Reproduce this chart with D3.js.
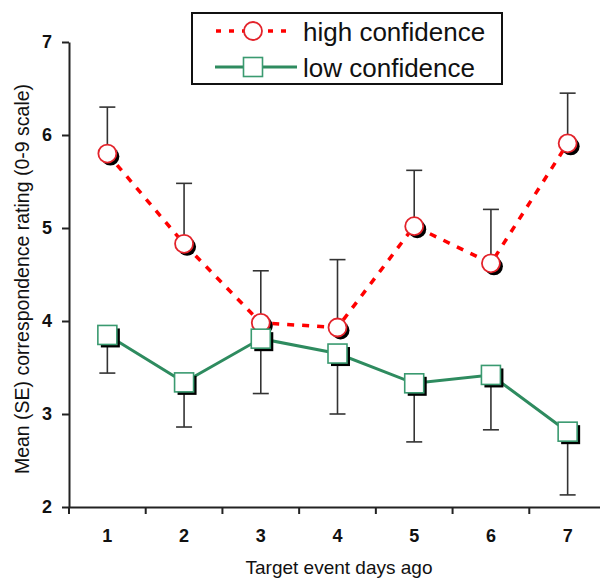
<!DOCTYPE html>
<html>
<head>
<meta charset="utf-8">
<script src="https://cdn.jsdelivr.net/npm/d3@7"></script>
<style>
  html, body { margin: 0; padding: 0; background: #fff; }
  svg { display: block; font-family: "Liberation Sans", Arial, sans-serif; }
</style>
</head>
<body>
<svg id="chart" width="600" height="581"></svg>
<script>
// Days since the target event
const days = [1, 2, 3, 4, 5, 6, 7];
// High-confidence group: mean rating and standard error
const highMean = [5.80, 4.83, 3.98, 3.93, 5.02, 4.62, 5.91];
const highSE   = [0.50, 0.65, 0.56, 0.73, 0.60, 0.58, 0.54];
// Low-confidence group: mean rating and standard error
const lowMean  = [3.85, 3.34, 3.81, 3.65, 3.33, 3.42, 2.81];
const lowSE    = [0.41, 0.48, 0.59, 0.65, 0.63, 0.59, 0.68];
const yTicks   = [2, 3, 4, 5, 6, 7];
const seriesNames = ["high confidence", "low confidence"];

const svg = d3.select("#chart");
const x = d3.scaleBand().domain(days).range([69, 606]);
const y = d3.scaleLinear().domain([2, 7]).range([507, 42]);
const cx = d => x(d) + x.bandwidth() / 2;

const axisColor = "#222";

// Y axis
const yAxis = svg.append("g").attr("transform", "translate(69,0)")
  .call(d3.axisLeft(y).tickValues(yTicks).tickFormat(d3.format("d")).tickSize(7).tickSizeOuter(0).tickPadding(10));
yAxis.select(".domain").attr("stroke", axisColor).attr("stroke-width", 2);
yAxis.selectAll(".tick line").attr("stroke", axisColor).attr("stroke-width", 2);
yAxis.selectAll(".tick text").attr("font-size", 18).attr("font-weight", "bold").attr("fill", "#111")
  .attr("font-family", "Liberation Sans, Arial, sans-serif");

// X axis: labels centred in each day's band, ticks on the band boundaries
const xAxis = svg.append("g").attr("transform", "translate(0,507)")
  .call(d3.axisBottom(x).tickSize(0).tickPadding(22));
xAxis.select(".domain").attr("stroke", axisColor).attr("stroke-width", 2);
xAxis.selectAll(".tick text").attr("font-size", 18).attr("font-weight", "bold").attr("fill", "#111")
  .attr("font-family", "Liberation Sans, Arial, sans-serif");
xAxis.selectAll(".boundary").data(days).enter().append("line")
  .attr("class", "boundary")
  .attr("x1", d => x(d)).attr("x2", d => x(d))
  .attr("y1", 0).attr("y2", 7)
  .attr("stroke", axisColor).attr("stroke-width", 2);

// Axis titles
svg.append("text")
  .attr("x", 339).attr("y", 574)
  .attr("text-anchor", "middle").attr("font-size", 19).attr("fill", "#111")
  .text("Target event days ago");
svg.append("text")
  .attr("transform", "translate(29,279) rotate(-90)")
  .attr("text-anchor", "middle").attr("font-size", 19.5).attr("fill", "#111")
  .text("Mean (SE) correspondence rating (0-9 scale)");

const high = days.map((d, i) => ({ d, m: highMean[i], se: highSE[i] }));
const low  = days.map((d, i) => ({ d, m: lowMean[i],  se: lowSE[i] }));

const line = d3.line().x(p => cx(p.d)).y(p => y(p.m));
const capW = 8;
const shadow = 3;

function errorBars(data, dir) {
  const g = svg.append("g");
  data.forEach(p => {
    const end = y(p.m + dir * p.se);
    g.append("line").attr("x1", cx(p.d)).attr("x2", cx(p.d))
      .attr("y1", y(p.m)).attr("y2", end)
      .attr("stroke", "#333").attr("stroke-width", 1.6);
    g.append("line").attr("x1", cx(p.d) - capW).attr("x2", cx(p.d) + capW)
      .attr("y1", end).attr("y2", end)
      .attr("stroke", "#333").attr("stroke-width", 1.6);
  });
}

// High-confidence series: dashed red line with open circles
svg.append("path").datum(high).attr("d", line)
  .attr("fill", "none").attr("stroke", "#ff0000").attr("stroke-width", 3.5)
  .attr("stroke-dasharray", "7,8");
errorBars(high, 1);
svg.append("g").selectAll("circle").data(high).enter().append("circle")
  .attr("cx", p => cx(p.d) + shadow).attr("cy", p => y(p.m) + shadow).attr("r", 9)
  .attr("fill", "#000");
svg.append("g").selectAll("circle").data(high).enter().append("circle")
  .attr("cx", p => cx(p.d)).attr("cy", p => y(p.m)).attr("r", 9)
  .attr("fill", "#fff").attr("stroke", "#e3232b").attr("stroke-width", 1.8);

// Low-confidence series: solid green line with open squares
svg.append("path").datum(low).attr("d", line)
  .attr("fill", "none").attr("stroke", "#2e8b5f").attr("stroke-width", 3);
errorBars(low, -1);
const sq = 19;
svg.append("g").selectAll("rect").data(low).enter().append("rect")
  .attr("x", p => cx(p.d) - sq / 2 + shadow).attr("y", p => y(p.m) - sq / 2 + shadow)
  .attr("width", sq).attr("height", sq).attr("fill", "#000");
svg.append("g").selectAll("rect").data(low).enter().append("rect")
  .attr("x", p => cx(p.d) - sq / 2).attr("y", p => y(p.m) - sq / 2)
  .attr("width", sq).attr("height", sq)
  .attr("fill", "#fff").attr("stroke", "#3a9a70").attr("stroke-width", 1.6);

// Legend
const lg = svg.append("g");
lg.append("rect").attr("x", 192).attr("y", 13).attr("width", 310).attr("height", 71)
  .attr("fill", "#fff").attr("stroke", "#111").attr("stroke-width", 2);
const rows = [31, 67];
lg.append("line").attr("x1", 216).attr("x2", 294).attr("y1", rows[0]).attr("y2", rows[0])
  .attr("stroke", "#ff0000").attr("stroke-width", 3.5).attr("stroke-dasharray", "5,8");
lg.append("circle").attr("cx", 253).attr("cy", rows[0]).attr("r", 9)
  .attr("fill", "#fff").attr("stroke", "#e3232b").attr("stroke-width", 1.8);
lg.append("line").attr("x1", 215).attr("x2", 297).attr("y1", rows[1]).attr("y2", rows[1])
  .attr("stroke", "#2e8b5f").attr("stroke-width", 3);
lg.append("rect").attr("x", 253 - sq / 2).attr("y", rows[1] - sq / 2).attr("width", sq).attr("height", sq)
  .attr("fill", "#fff").attr("stroke", "#3a9a70").attr("stroke-width", 1.6);
lg.selectAll("text.lbl").data(seriesNames).enter().append("text")
  .attr("class", "lbl")
  .attr("x", 303).attr("y", (d, i) => rows[i] + 10)
  .attr("font-size", 26).attr("fill", "#111")
  .text(d => d);
</script>
</body>
</html>
